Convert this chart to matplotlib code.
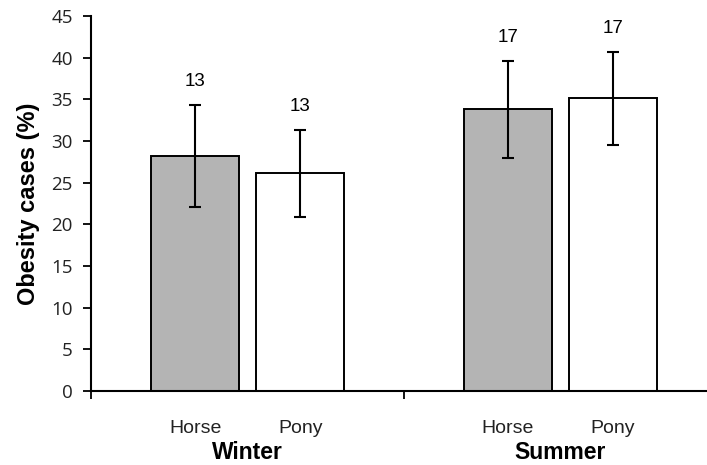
import matplotlib.pyplot as plt
from matplotlib.transforms import blended_transform_factory

seasons = ['Winter', 'Summer']
animals = ['Horse', 'Pony']
# mean obesity cases (%) and error, per season: [horse, pony]
means = [[28.2, 26.1], [33.8, 35.1]]
errors = [[6.1, 5.2], [5.85, 5.55]]
counts = [[13, 13], [17, 17]]
yticks = list(range(0, 46, 5))

plt.rcParams['font.family'] = ['Liberation Sans', 'DejaVu Sans']

fig = plt.figure(figsize=(7.07, 4.65), dpi=100)
ax = fig.add_axes([91 / 707, 1 - 391 / 465, 1 - 91 / 707, 375 / 465])

offsets = [0.333, 0.669]
colors = ['#b4b4b4', 'white']
width = 0.283

for g, season in enumerate(seasons):
    for i, animal in enumerate(animals):
        x = g + offsets[i]
        ax.bar(x, means[g][i], width=width, color=colors[i], edgecolor='black',
               linewidth=1.4, zorder=2)
        ax.errorbar(x, means[g][i], yerr=errors[g][i], fmt='none', ecolor='black',
                    elinewidth=1.5, capsize=4, capthick=1.5, zorder=3)
        ax.text(x, means[g][i] + errors[g][i] + 2.8, str(counts[g][i]),
                ha='center', va='center', fontsize=13.5)

ax.set_xlim(0, 1.97)
ax.set_ylim(0, 45)
ax.set_yticks(yticks)
ax.set_yticklabels([str(v) for v in yticks], fontfamily='Open Sans',
                   fontsize=13.5, color='#222222')
ax.tick_params(axis='y', direction='out', length=6, width=1.3, pad=7)

ax.set_xticks([0, 1])
ax.set_xticklabels([])
ax.tick_params(axis='x', which='major', direction='out', length=6, width=1.3)
minor_x = [g + o for g in range(len(seasons)) for o in offsets]
ax.set_xticks(minor_x, minor=True)
ax.set_xticklabels(animals * len(seasons), minor=True, fontsize=14, color='#222222')
ax.tick_params(axis='x', which='minor', length=0, pad=21)

trans = blended_transform_factory(ax.transData, ax.transAxes)
for g, season in enumerate(seasons):
    ax.text(g + 0.5, -0.165, season, transform=trans, ha='center', va='center',
            fontsize=16.5, fontweight='bold')

ax.set_ylabel('Obesity cases (%)', fontsize=17, fontweight='bold', labelpad=8)

for side in ['top', 'right']:
    ax.spines[side].set_visible(False)
for side in ['left', 'bottom']:
    ax.spines[side].set_linewidth(1.5)

fig.savefig('out.png', dpi=100)
